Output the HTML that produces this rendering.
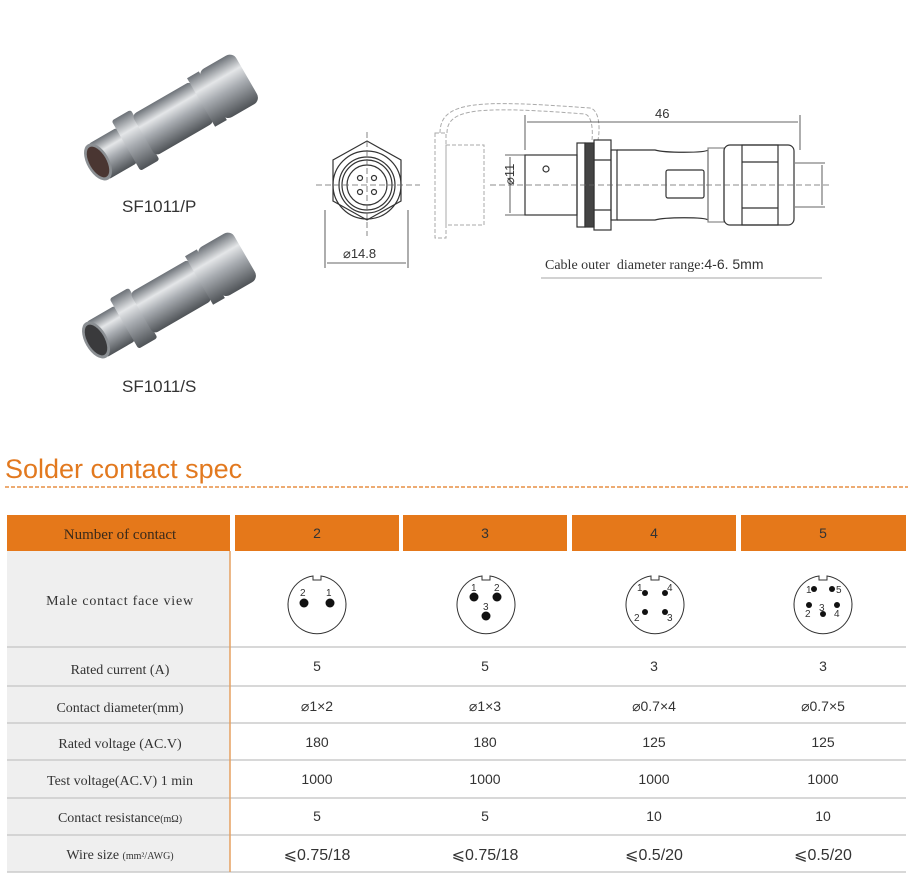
<!DOCTYPE html>
<html><head><meta charset="utf-8"><style>
body{margin:0;background:#fff;}
svg{display:block}
.s{font-family:"Liberation Serif",serif;fill:#333;font-size:14px}
.a{font-family:"Liberation Sans",sans-serif;fill:#333;font-size:14px}
</style></head><body>
<svg width="910" height="890" viewBox="0 0 910 890" xmlns="http://www.w3.org/2000/svg">
<defs>
<linearGradient id="m" x1="0" y1="0" x2="0" y2="1">
<stop offset="0" stop-color="#6d7278"/><stop offset="0.3" stop-color="#e4e6e8"/><stop offset="0.55" stop-color="#a9adb2"/><stop offset="1" stop-color="#4f5357"/></linearGradient>
</defs>
<g transform="translate(98,162) rotate(-30) scale(0.85)">
<rect x="0" y="-24" width="40" height="48" rx="4" fill="url(#m)"/>
<ellipse cx="0" cy="0" rx="13" ry="24" fill="#8b8f93"/>
<ellipse cx="0" cy="0" rx="10" ry="20" fill="#4a3632"/>
<rect x="38" y="-34" width="26" height="68" rx="3" fill="url(#m)"/>
<rect x="62" y="-28" width="80" height="56" rx="6" fill="url(#m)"/>
<rect x="140" y="-33" width="16" height="66" fill="url(#m)"/>
<rect x="154" y="-33" width="48" height="66" rx="9" fill="url(#m)"/>
</g>
<g transform="translate(96,340) rotate(-30) scale(0.85)">
<rect x="0" y="-24" width="40" height="48" rx="4" fill="url(#m)"/>
<ellipse cx="0" cy="0" rx="13" ry="24" fill="#8b8f93"/>
<ellipse cx="0" cy="0" rx="10" ry="20" fill="#3a3a3c"/>
<rect x="38" y="-34" width="26" height="68" rx="3" fill="url(#m)"/>
<rect x="62" y="-28" width="80" height="56" rx="6" fill="url(#m)"/>
<rect x="140" y="-33" width="16" height="66" fill="url(#m)"/>
<rect x="154" y="-33" width="48" height="66" rx="9" fill="url(#m)"/>
</g>
<text x="122" y="212" class="a" style="font-size:17px">SF1011/P</text>
<text x="122" y="392" class="a" style="font-size:17px">SF1011/S</text>

<g stroke="#333" fill="none" stroke-width="1.2">
<polygon points="367,141 401,160 401,201 367,220 333,201 333,160"/>
<circle cx="367" cy="185" r="34"/>
<circle cx="367" cy="185" r="28"/>
<circle cx="367" cy="185" r="25"/>
<circle cx="367" cy="185" r="20"/>
<circle cx="360" cy="178" r="2.5"/><circle cx="374" cy="178" r="2.5"/>
<circle cx="360" cy="192" r="2.5"/><circle cx="374" cy="192" r="2.5"/>
<line x1="325" y1="210" x2="325" y2="268" stroke-width="0.8"/>
<line x1="408" y1="210" x2="408" y2="268" stroke-width="0.8"/>
<line x1="327" y1="263" x2="406" y2="263" stroke-width="0.8"/>
</g>
<line x1="316" y1="185" x2="420" y2="185" stroke="#666" stroke-dasharray="6,3" stroke-width="0.8"/>
<line x1="367" y1="132" x2="367" y2="236" stroke="#666" stroke-dasharray="6,3" stroke-width="0.8"/>
<text x="343" y="258" class="a" style="font-size:13px">⌀14.8</text>

<g stroke="#aaa" fill="none" stroke-dasharray="4,2" stroke-width="1">
<rect x="435" y="133" width="11" height="105"/>
<rect x="446" y="145" width="38" height="80"/>
<path d="M440,133 C440,100 480,100 590,108 C600,110 600,130 598,140"/>
<path d="M447,133 C447,108 480,106 585,114 C592,116 593,130 592,140"/>
</g>
<g stroke="#333" fill="none" stroke-width="1.2">
<rect x="525" y="155" width="52" height="60"/>
<rect x="577" y="143" width="8" height="84"/>
<rect x="585" y="143" width="9" height="84" fill="#444"/>
<rect x="594" y="140" width="17" height="90"/>
<line x1="594" y1="160" x2="611" y2="160"/><line x1="594" y1="210" x2="611" y2="210"/>
<rect x="611" y="150" width="6" height="70"/>
<path d="M617,150 L655,150 C665,153 705,153 708,150 L708,220 C705,217 665,217 655,220 L617,220"/>
<rect x="666" y="170" width="38" height="28" rx="2"/>
<rect x="708" y="148" width="16" height="74" stroke="#888"/>
<rect x="724" y="145" width="70" height="80" rx="6"/>
<rect x="742" y="145" width="36" height="80"/>
<line x1="742" y1="162" x2="778" y2="162"/><line x1="742" y1="208" x2="778" y2="208"/>
<circle cx="546" cy="169" r="3"/>
</g>
<g stroke="#333" stroke-width="0.8" fill="none">
<line x1="525" y1="115" x2="525" y2="150"/><line x1="800" y1="115" x2="800" y2="150"/>
<line x1="527" y1="122" x2="798" y2="122"/>
<line x1="505" y1="155" x2="525" y2="155"/><line x1="505" y1="215" x2="525" y2="215"/>
<line x1="510" y1="157" x2="510" y2="213"/>
<line x1="795" y1="163" x2="825" y2="163"/><line x1="795" y1="207" x2="825" y2="207"/>
<line x1="822" y1="165" x2="822" y2="205"/>
<line x1="541" y1="278" x2="822" y2="278" stroke="#888"/>
</g>
<line x1="490" y1="185" x2="830" y2="185" stroke="#666" stroke-dasharray="6,3" stroke-width="0.8"/>
<text x="655" y="118" class="a" style="font-size:13px">46</text>
<text x="504" y="195" class="a" style="font-size:13px" transform="rotate(-90 504 185)">⌀11</text>
<text x="545" y="269" class="s" style="font-size:14px">Cable outer&#160; diameter range:<tspan class="a" style="font-size:14px">4-6. 5mm</tspan></text>

<text x="5" y="478" style="font-family:'Liberation Sans Narrow','Liberation Sans',sans-serif;font-size:27px;fill:#e2791f">Solder contact spec</text>
<line x1="5" y1="487" x2="908" y2="487" stroke="#e2791f" stroke-width="1.2" stroke-dasharray="4,2"/>

<rect x="7" y="551" width="223" height="321" fill="#efefef"/>
<g fill="#e5781a">
<rect x="7" y="515" width="223" height="36"/>
<rect x="235" y="515" width="164" height="36"/>
<rect x="403" y="515" width="164" height="36"/>
<rect x="572" y="515" width="164" height="36"/>
<rect x="741" y="515" width="165" height="36"/>
</g>
<g stroke="#ccc" stroke-width="1.5">
<line x1="7" y1="647" x2="906" y2="647"/><line x1="7" y1="686" x2="906" y2="686"/>
<line x1="7" y1="723" x2="906" y2="723"/><line x1="7" y1="760" x2="906" y2="760"/>
<line x1="7" y1="798" x2="906" y2="798"/><line x1="7" y1="835" x2="906" y2="835"/>
<line x1="7" y1="872" x2="906" y2="872"/>
</g>
<line x1="230" y1="551" x2="230" y2="872" stroke="#e5a060" stroke-width="1.5"/>
<g class="s" text-anchor="middle">
<text x="120" y="539" style="fill:#3a2a1a;font-size:15px">Number of contact</text>
<text x="120" y="605" style="letter-spacing:0.8px">Male contact face view</text>
<text x="120" y="674">Rated current (A)</text>
<text x="120" y="712">Contact diameter(mm)</text>
<text x="120" y="748">Rated voltage (AC.V)</text>
<text x="120" y="785">Test voltage(AC.V) 1 min</text>
<text x="120" y="822">Contact resistance<tspan style="font-size:10px">(mΩ)</tspan></text>
<text x="120" y="859">Wire size <tspan style="font-size:10px">(mm²/AWG)</tspan></text>
</g>
<g class="a" text-anchor="middle">
<text x="317" y="538">2</text><text x="485" y="538">3</text><text x="654" y="538">4</text><text x="823" y="538">5</text>
<text x="317" y="671">5</text><text x="485" y="671">5</text><text x="654" y="671">3</text><text x="823" y="671">3</text>
<text x="317" y="711">⌀1×2</text><text x="485" y="711">⌀1×3</text><text x="654" y="711">⌀0.7×4</text><text x="823" y="711">⌀0.7×5</text>
<text x="317" y="747">180</text><text x="485" y="747">180</text><text x="654" y="747">125</text><text x="823" y="747">125</text>
<text x="317" y="784">1000</text><text x="485" y="784">1000</text><text x="654" y="784">1000</text><text x="823" y="784">1000</text>
<text x="317" y="821">5</text><text x="485" y="821">5</text><text x="654" y="821">10</text><text x="823" y="821">10</text>
<g style="font-size:16px"><text x="317" y="860">⩽0.75/18</text><text x="485" y="860">⩽0.75/18</text><text x="654" y="860">⩽0.5/20</text><text x="823" y="860">⩽0.5/20</text></g>
</g>
<g stroke="#333" fill="#fff" stroke-width="1">
<path d="M313,576 A29,29 0 1 0 321,576 L321,580 L313,580 Z"/>
<path d="M482,576 A29,29 0 1 0 490,576 L490,580 L482,580 Z"/>
<path d="M651,576 A29,29 0 1 0 659,576 L659,580 L651,580 Z"/>
<path d="M819,576 A29,29 0 1 0 827,576 L827,580 L819,580 Z"/>
</g>
<g fill="#111">
<circle cx="304" cy="603" r="4.5"/><circle cx="330" cy="603" r="4.5"/>
<circle cx="474" cy="597" r="4.5"/><circle cx="497" cy="597" r="4.5"/><circle cx="486" cy="616" r="4.5"/>
<circle cx="645" cy="593" r="3"/><circle cx="665" cy="593" r="3"/><circle cx="645" cy="612" r="3"/><circle cx="665" cy="612" r="3"/>
<circle cx="814" cy="589" r="3"/><circle cx="832" cy="589" r="3"/><circle cx="809" cy="605" r="3"/><circle cx="837" cy="605" r="3"/><circle cx="823" cy="614" r="3"/>
</g>
<g class="a" style="font-size:10px">
<text x="300" y="596">2</text><text x="326" y="596">1</text>
<text x="471" y="591">1</text><text x="494" y="591">2</text><text x="483" y="610">3</text>
<text x="637" y="591">1</text><text x="667" y="591">4</text><text x="634" y="621">2</text><text x="667" y="621">3</text>
<text x="806" y="593">1</text><text x="836" y="593">5</text><text x="819" y="611">3</text><text x="805" y="617">2</text><text x="834" y="617">4</text>
</g>
</svg>
</body></html>
